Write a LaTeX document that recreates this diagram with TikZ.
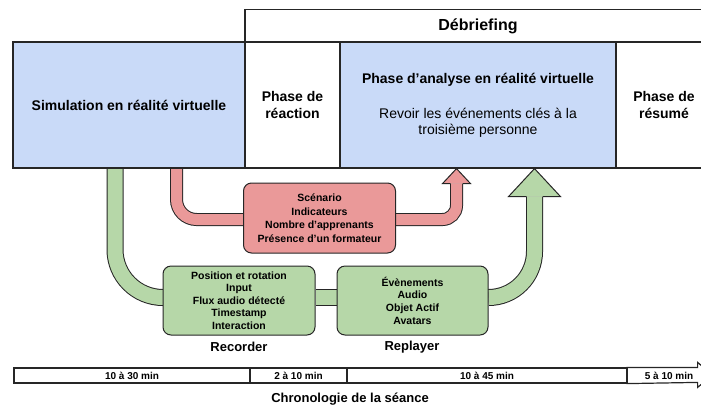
\documentclass[tikz,border=0pt]{standalone}
\usepackage{fontspec}
\setmainfont{Liberation Sans}
\usetikzlibrary{positioning,calc}
\pgfdeclarelayer{background}
\pgfsetlayers{background,main}
\definecolor{simblue}{HTML}{C9DAF8}
\definecolor{metared}{HTML}{EA9999}
\definecolor{datagreen}{HTML}{B6D7A8}
\definecolor{edgegray}{HTML}{262626}

\begin{document}
\begin{tikzpicture}[x=1pt,y=-1pt]
\tikzset{
  phasebox/.style={rectangle,draw=edgegray,line width=1.2pt,inner sep=2pt,align=center,minimum height=126pt,font=\fontsize{14}{17}\selectfont\bfseries},
  databox/.style={rectangle,rounded corners=8pt,draw=edgegray,line width=1pt,inner sep=2pt,align=center,font=\fontsize{10.5}{12.6}\selectfont\bfseries},
  tlbox/.style={rectangle,draw=edgegray,line width=1.2pt,inner sep=0pt,minimum height=15pt,font=\fontsize{10}{11}\selectfont\bfseries},
  caption/.style={font=\fontsize{13}{15}\selectfont\bfseries},
  band/.style={draw=edgegray,line width=1pt,double=#1},
  greenband/.style={band=datagreen,double distance=15pt},
  redband/.style={band=metared,double distance=11pt},
  headline/.style={draw=edgegray,line width=1pt,line join=miter}
}
\useasboundingbox (0,0) rectangle (701,408);

% phases
\node[phasebox,minimum width=466pt,minimum height=33pt,font=\fontsize{16}{19}\selectfont\bfseries] (debrief) at (478,26) {Débriefing};
\node[phasebox,fill=simblue,minimum width=232pt] (sim) at (129,105) {Simulation en réalité virtuelle};
\node[phasebox,minimum width=95pt] (react) at (292.5,105) {Phase de\\réaction};
\node[phasebox,fill=simblue,minimum width=276pt,font=\fontsize{14}{16}\selectfont] (anl) at (478,105) {\textbf{Phase d’analyse en réalité virtuelle}\\[19pt]Revoir les événements clés à la\\troisième personne};
\node[phasebox,minimum width=96pt] (resume) at (664,105) {Phase de\\résumé};

% data
\node[databox,fill=metared,minimum width=152pt,minimum height=70pt,font=\fontsize{10.5}{13.5}\selectfont\bfseries] (scen) at (319.5,218) {Scénario\\Indicateurs\\Nombre d’apprenants\\Présence d’un formateur};
\node[databox,fill=datagreen,minimum width=152pt,minimum height=69pt] (rec) at (239,300.5) {Position et rotation\\Input\\Flux audio détecté\\Timestamp\\Interaction};
\node[databox,fill=datagreen,minimum width=151pt,minimum height=69pt] (rep) at (412.5,300.5) {Évènements\\Audio\\Objet Actif\\Avatars};
\node[caption] (reclabel) at (239,347) {Recorder};
\node[caption] (replabel) at (412,347) {Replayer};

% timeline
\node[tlbox,minimum width=236pt] (t1) at (132,375.5) {10 à 30 min};
\node[tlbox,minimum width=97pt] (t2) at (298.5,375.5) {2 à 10 min};
\node[tlbox,minimum width=280pt] (t3) at (487,375.5) {10 à 45 min};
\node[tlbox,draw=none,minimum width=84pt] (t4) at (669,375.5) {5 à 10 min};
\draw[headline,line width=1.2pt] (t4.north west) -- ([xshift=-14pt]t4.north east) -- ++(0,-5) -- ++(15,12.5) -- ++(-15,12.5) -- ++(0,-5) -- (t4.south west);
\node[caption] (chrono) at (350,399) {Chronologie de la séance};

\begin{pgfonlayer}{background}
\coordinate (rtip) at ([xshift=-21.5pt]anl.south);
\coordinate (gtip) at ([xshift=56.5pt]anl.south);
\draw[greenband,rounded corners=48pt] ([xshift=-14pt]sim.south) |- ([yshift=3pt]rec.west);
\draw[greenband] ([yshift=3pt]rec.east) -- ([yshift=3pt]rep.west);
\draw[greenband,rounded corners=46pt] ([yshift=3pt]rep.east) -| ([yshift=-28pt]gtip);
\draw[redband,rounded corners=20pt] ([xshift=47.5pt]sim.south) |- ([yshift=-1.5pt]scen.west);
\draw[redband,rounded corners=14pt] ([yshift=-1.5pt]scen.east) -| ([yshift=-15pt]rtip);
\fill[datagreen] (gtip) -- ++(26,28) -- ++(-52,0) -- cycle;
\draw[headline] (gtip) ++(8,28) -- ++(18,0) -- (gtip) -- ++(-26,28) -- ++(18,0);
\fill[metared] (rtip) -- ++(14,15) -- ++(-28,0) -- cycle;
\draw[headline] (rtip) ++(6,15) -- ++(8,0) -- (rtip) -- ++(-14,15) -- ++(8,0);
\end{pgfonlayer}
\end{tikzpicture}
\end{document}
